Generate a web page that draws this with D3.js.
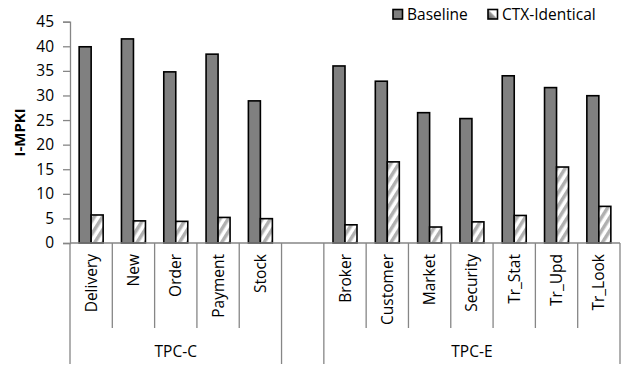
<!DOCTYPE html>
<html>
<head>
<meta charset="utf-8">
<script src="https://cdn.jsdelivr.net/npm/d3@7"></script>
<style>
  html, body { margin: 0; padding: 0; background: #fff; }
  svg { display: block; }
  text { font-family: "Open Sans", Lato, sans-serif; fill: #000; }
</style>
</head>
<body>
<svg id="chart" width="633" height="365"></svg>
<script>
// Benchmark transactions, grouped by workload; an empty slot separates the groups
const groups = ["TPC-C", "TPC-E"];
const tpccCategories = ["Delivery", "New", "Order", "Payment", "Stock"];
const tpceCategories = ["Broker", "Customer", "Market", "Security", "Tr_Stat", "Tr_Upd", "Tr_Look"];
const seriesNames = ["Baseline", "CTX-Identical"];
const baselineTPCC = [39.9, 41.5, 34.8, 38.4, 28.9];
const ctxTPCC = [5.7, 4.5, 4.4, 5.2, 4.95];
const baselineTPCE = [36.0, 32.9, 26.5, 25.3, 34.0, 31.6, 29.95];
const ctxTPCE = [3.7, 16.5, 3.25, 4.3, 5.6, 15.45, 7.45];
const yTicks = [0, 5, 10, 15, 20, 25, 30, 35, 40, 45];

const svg = d3.select("#chart");
const plotLeft = 70, plotRight = 620, plotTop = 21.7, plotBottom = 243;
const fontSize = "15.5px";

// Slot keys: TPC-C categories, a spacer, TPC-E categories
const slots = [
  ...tpccCategories.map(c => "C:" + c),
  "gap",
  ...tpceCategories.map(c => "E:" + c)
];
const rows = [
  ...tpccCategories.map((c, i) => ({ key: "C:" + c, name: c, vals: [baselineTPCC[i], ctxTPCC[i]] })),
  ...tpceCategories.map((c, i) => ({ key: "E:" + c, name: c, vals: [baselineTPCE[i], ctxTPCE[i]] }))
];

const x = d3.scaleBand().domain(slots).range([plotLeft, plotRight]).paddingInner(0).paddingOuter(0);
const xInner = d3.scaleBand().domain(seriesNames).range([0, 24]);
const y = d3.scaleLinear().domain([0, 45]).range([plotBottom, plotTop]);

// Hatch pattern for the CTX-Identical series
const defs = svg.append("defs");
const pat = defs.append("pattern")
  .attr("id", "hatch")
  .attr("patternUnits", "userSpaceOnUse")
  .attr("width", 7).attr("height", 7)
  .attr("patternTransform", "rotate(32)");
pat.append("rect").attr("width", 7).attr("height", 7).attr("fill", "#fff");
pat.append("rect").attr("x", 0).attr("y", 0).attr("width", 3.5).attr("height", 7).attr("fill", "#b0b0b0");

// Legend swatch for hatch: light diagonal shading
const lgGrad = defs.append("linearGradient").attr("id", "legendFill")
  .attr("x1", 0).attr("y1", 1).attr("x2", 1).attr("y2", 0);
lgGrad.append("stop").attr("offset", "0%").attr("stop-color", "#555");
lgGrad.append("stop").attr("offset", "45%").attr("stop-color", "#999");
lgGrad.append("stop").attr("offset", "55%").attr("stop-color", "#fff");
lgGrad.append("stop").attr("offset", "100%").attr("stop-color", "#fff");

const fills = { "Baseline": "#808080", "CTX-Identical": "url(#hatch)" };
const axisColor = "#868686";

// Y axis
const yAxis = d3.axisLeft(y).tickValues(yTicks).tickSize(7).tickPadding(9);
const gy = svg.append("g").attr("transform", `translate(${plotLeft},0)`).call(yAxis);
gy.select(".domain").attr("stroke", axisColor).attr("stroke-width", 1.3);
gy.selectAll(".tick line").attr("stroke", axisColor).attr("stroke-width", 1.3);
gy.selectAll(".tick text")
  .style("font-family", "'Open Sans', Lato, sans-serif")
  .style("font-size", fontSize).attr("fill", "#000");

// Bars
const bw = xInner.bandwidth();
const cat = svg.append("g").selectAll("g").data(rows).join("g")
  .attr("transform", d => `translate(${x(d.key) + x.bandwidth() / 2 - 12},0)`);
cat.selectAll("rect").data(d => d.vals.map((v, i) => ({ s: seriesNames[i], v })))
  .join("rect")
  .attr("x", d => xInner(d.s))
  .attr("y", d => y(d.v))
  .attr("width", bw)
  .attr("height", d => y(0) - y(d.v))
  .attr("fill", d => fills[d.s])
  .attr("stroke", "#000")
  .attr("stroke-width", 1.6);

// X axis line
svg.append("line").attr("x1", plotLeft).attr("x2", plotRight).attr("y1", plotBottom).attr("y2", plotBottom)
  .attr("stroke", axisColor).attr("stroke-width", 1.3);

// Slot dividers: short ones between categories, long ones at group edges
const edges = slots.map(s => x(s)).concat([plotRight]);
const groupEdgeIdx = new Set([0, tpccCategories.length, tpccCategories.length + 1, slots.length]);
svg.append("g").selectAll("line").data(edges).join("line")
  .attr("x1", d => d).attr("x2", d => d)
  .attr("y1", plotBottom)
  .attr("y2", (d, i) => groupEdgeIdx.has(i) ? 364 : 328)
  .attr("stroke", axisColor).attr("stroke-width", 1.3);

// Category labels, rotated
svg.append("g").selectAll("text").data(rows).join("text")
  .attr("transform", d => `translate(${x(d.key) + x.bandwidth() / 2 + 5.5},${plotBottom + 11}) rotate(-90)`)
  .attr("text-anchor", "end")
  .style("font-size", fontSize)
  .text(d => d.name);

// Group labels
const groupSpans = [
  [x("C:" + tpccCategories[0]), x("gap")],
  [x("E:" + tpceCategories[0]), plotRight]
];
svg.append("g").selectAll("text").data(groups).join("text")
  .attr("x", (d, i) => (groupSpans[i][0] + groupSpans[i][1]) / 2)
  .attr("y", 357)
  .attr("text-anchor", "middle")
  .style("font-size", fontSize)
  .text(d => d);

// Y axis title
svg.append("text")
  .attr("transform", `translate(25,${(plotTop + plotBottom) / 2}) rotate(-90)`)
  .attr("text-anchor", "middle")
  .style("font-size", "15px").style("font-weight", "bold")
  .text("I-MPKI");

// Legend
const legendX = [393, 488];
const lg = svg.append("g").selectAll("g").data(seriesNames).join("g")
  .attr("transform", (d, i) => `translate(${legendX[i]},9.5)`);
lg.append("rect").attr("width", 9.5).attr("height", 9.5)
  .attr("fill", d => d === "Baseline" ? fills[d] : "url(#legendFill)")
  .attr("stroke", "#000").attr("stroke-width", 1.6);
lg.append("text").attr("x", 14).attr("y", 10.5)
  .style("font-size", fontSize)
  .text(d => d);
</script>
</body>
</html>
